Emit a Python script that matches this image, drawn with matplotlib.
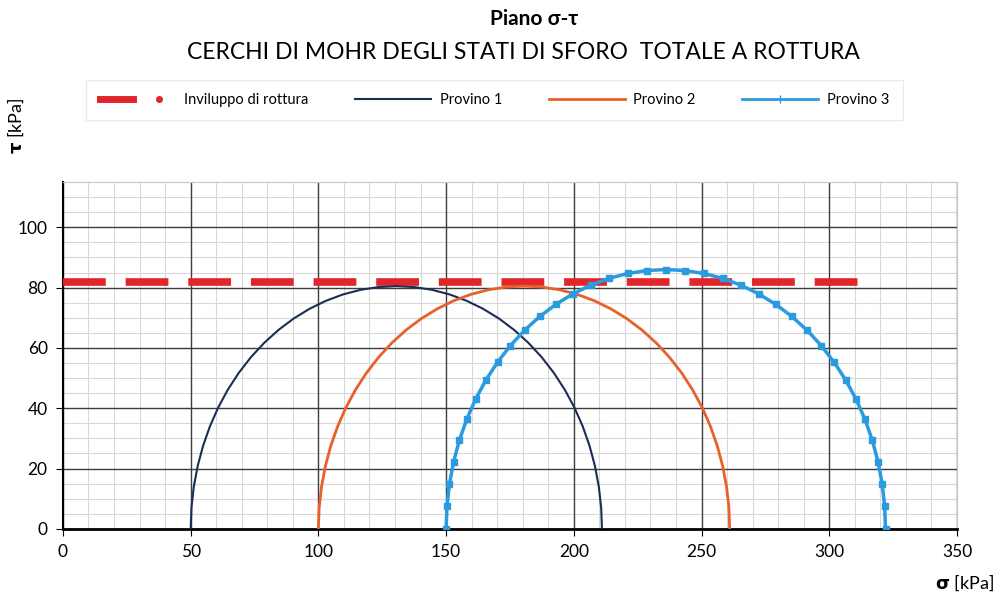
import numpy as np
import matplotlib.pyplot as plt
from matplotlib.lines import Line2D
from matplotlib.legend_handler import HandlerTuple
from matplotlib.ticker import MultipleLocator

plt.rcParams['font.family'] = ['Lato', 'DejaVu Sans']

# principal stresses at failure for each specimen [kPa]
provini = ['Provino 1', 'Provino 2', 'Provino 3']
sigma_3 = [50, 100, 150]
sigma_1 = [211, 261, 322]
colors = ['#1c2d55', '#e8602a', '#2b9be0']

# failure envelope (undrained cohesion)
env_sigma = [0, 300, 315]
env_tau = [82, 82, 82]


def mohr_circle(s3, s1, n=37):
    c = (s1 + s3) / 2.0
    r = (s1 - s3) / 2.0
    t = np.linspace(np.pi, 0, n)
    return c + r * np.cos(t), r * np.sin(t)


fig = plt.figure(figsize=(9.99, 6.01), dpi=100)
ax = fig.add_axes([0.063, 0.12, 0.895, 0.577])

ax.plot(env_sigma, env_tau, color='#e0262b', lw=5.5, dashes=(5.6, 2.6),
        marker='o', ms=4, markevery=[0, 1], zorder=3)

for i in range(len(provini)):
    x, y = mohr_circle(sigma_3[i], sigma_1[i])
    if i == 2:
        ax.plot(x, y, color=colors[i], lw=2.5, marker='s', ms=5, zorder=4)
    else:
        ax.plot(x, y, color=colors[i], lw=1.5 if i == 0 else 2.0, zorder=4)

ax.set_xlim(0, 350)
ax.set_ylim(0, 115)
ax.xaxis.set_major_locator(MultipleLocator(50))
ax.xaxis.set_minor_locator(MultipleLocator(10))
ax.yaxis.set_major_locator(MultipleLocator(20))
ax.yaxis.set_minor_locator(MultipleLocator(5))
ax.set_yticks([0, 20, 40, 60, 80, 100])

# light minor grid underneath, darker major lines on top of it
ax.grid(which='minor', color='#d8d8d8', lw=0.8, zorder=0)
for xv in ax.get_xticks()[1:-1]:
    ax.axvline(xv, color='#3c3c3c', lw=1.0, zorder=1)
for yv in ax.get_yticks()[1:]:
    ax.axhline(yv, color='#3c3c3c', lw=1.0, zorder=1)
ax.set_axisbelow(True)

ax.tick_params(which='major', labelsize=12.5, length=5, direction='out', pad=6)
ax.tick_params(which='minor', length=0)
for side in ['top', 'right']:
    ax.spines[side].set_color('#c8c8c8')
    ax.spines[side].set_linewidth(0.8)
ax.spines['left'].set_linewidth(1.5)
ax.spines['bottom'].set_linewidth(2)

fig.text(0.535, 0.968, 'Piano σ-τ', ha='center', va='center',
         fontsize=15, fontweight='bold')
fig.text(0.524, 0.912, 'CERCHI DI MOHR DEGLI STATI DI SFORO  TOTALE A ROTTURA',
         ha='center', va='center', fontsize=16.5)

fig.text(0.016, 0.79, r'$\mathbf{\tau}$ [kPa]', rotation=90, ha='center',
         va='center', fontsize=13)
fig.text(0.965, 0.03, r'$\mathbf{\sigma}$ [kPa]', ha='center', va='center',
         fontsize=13)

env_handle = (Line2D([], [], color='#e0262b', lw=5),
              Line2D([], [], color='#e0262b', lw=0, marker='o', ms=4))
handles = [env_handle] + [
    Line2D([], [], color=colors[0], lw=1.5),
    Line2D([], [], color=colors[1], lw=2.0),
    Line2D([], [], color=colors[2], lw=2.0, marker='|', ms=6, markevery=[1]),
]
labels = ['Inviluppo di rottura'] + provini
leg = fig.legend(handles, labels, loc='center', bbox_to_anchor=(0.495, 0.834),
                 ncol=4, fontsize=10.5, handlelength=5.2, columnspacing=3.2,
                 handletextpad=0.6, frameon=True, fancybox=False,
                 borderpad=0.9, edgecolor='#e6e6e6',
                 handler_map={tuple: HandlerTuple(ndivide=2, pad=0.6)})

fig.savefig('out.png', dpi=100)
